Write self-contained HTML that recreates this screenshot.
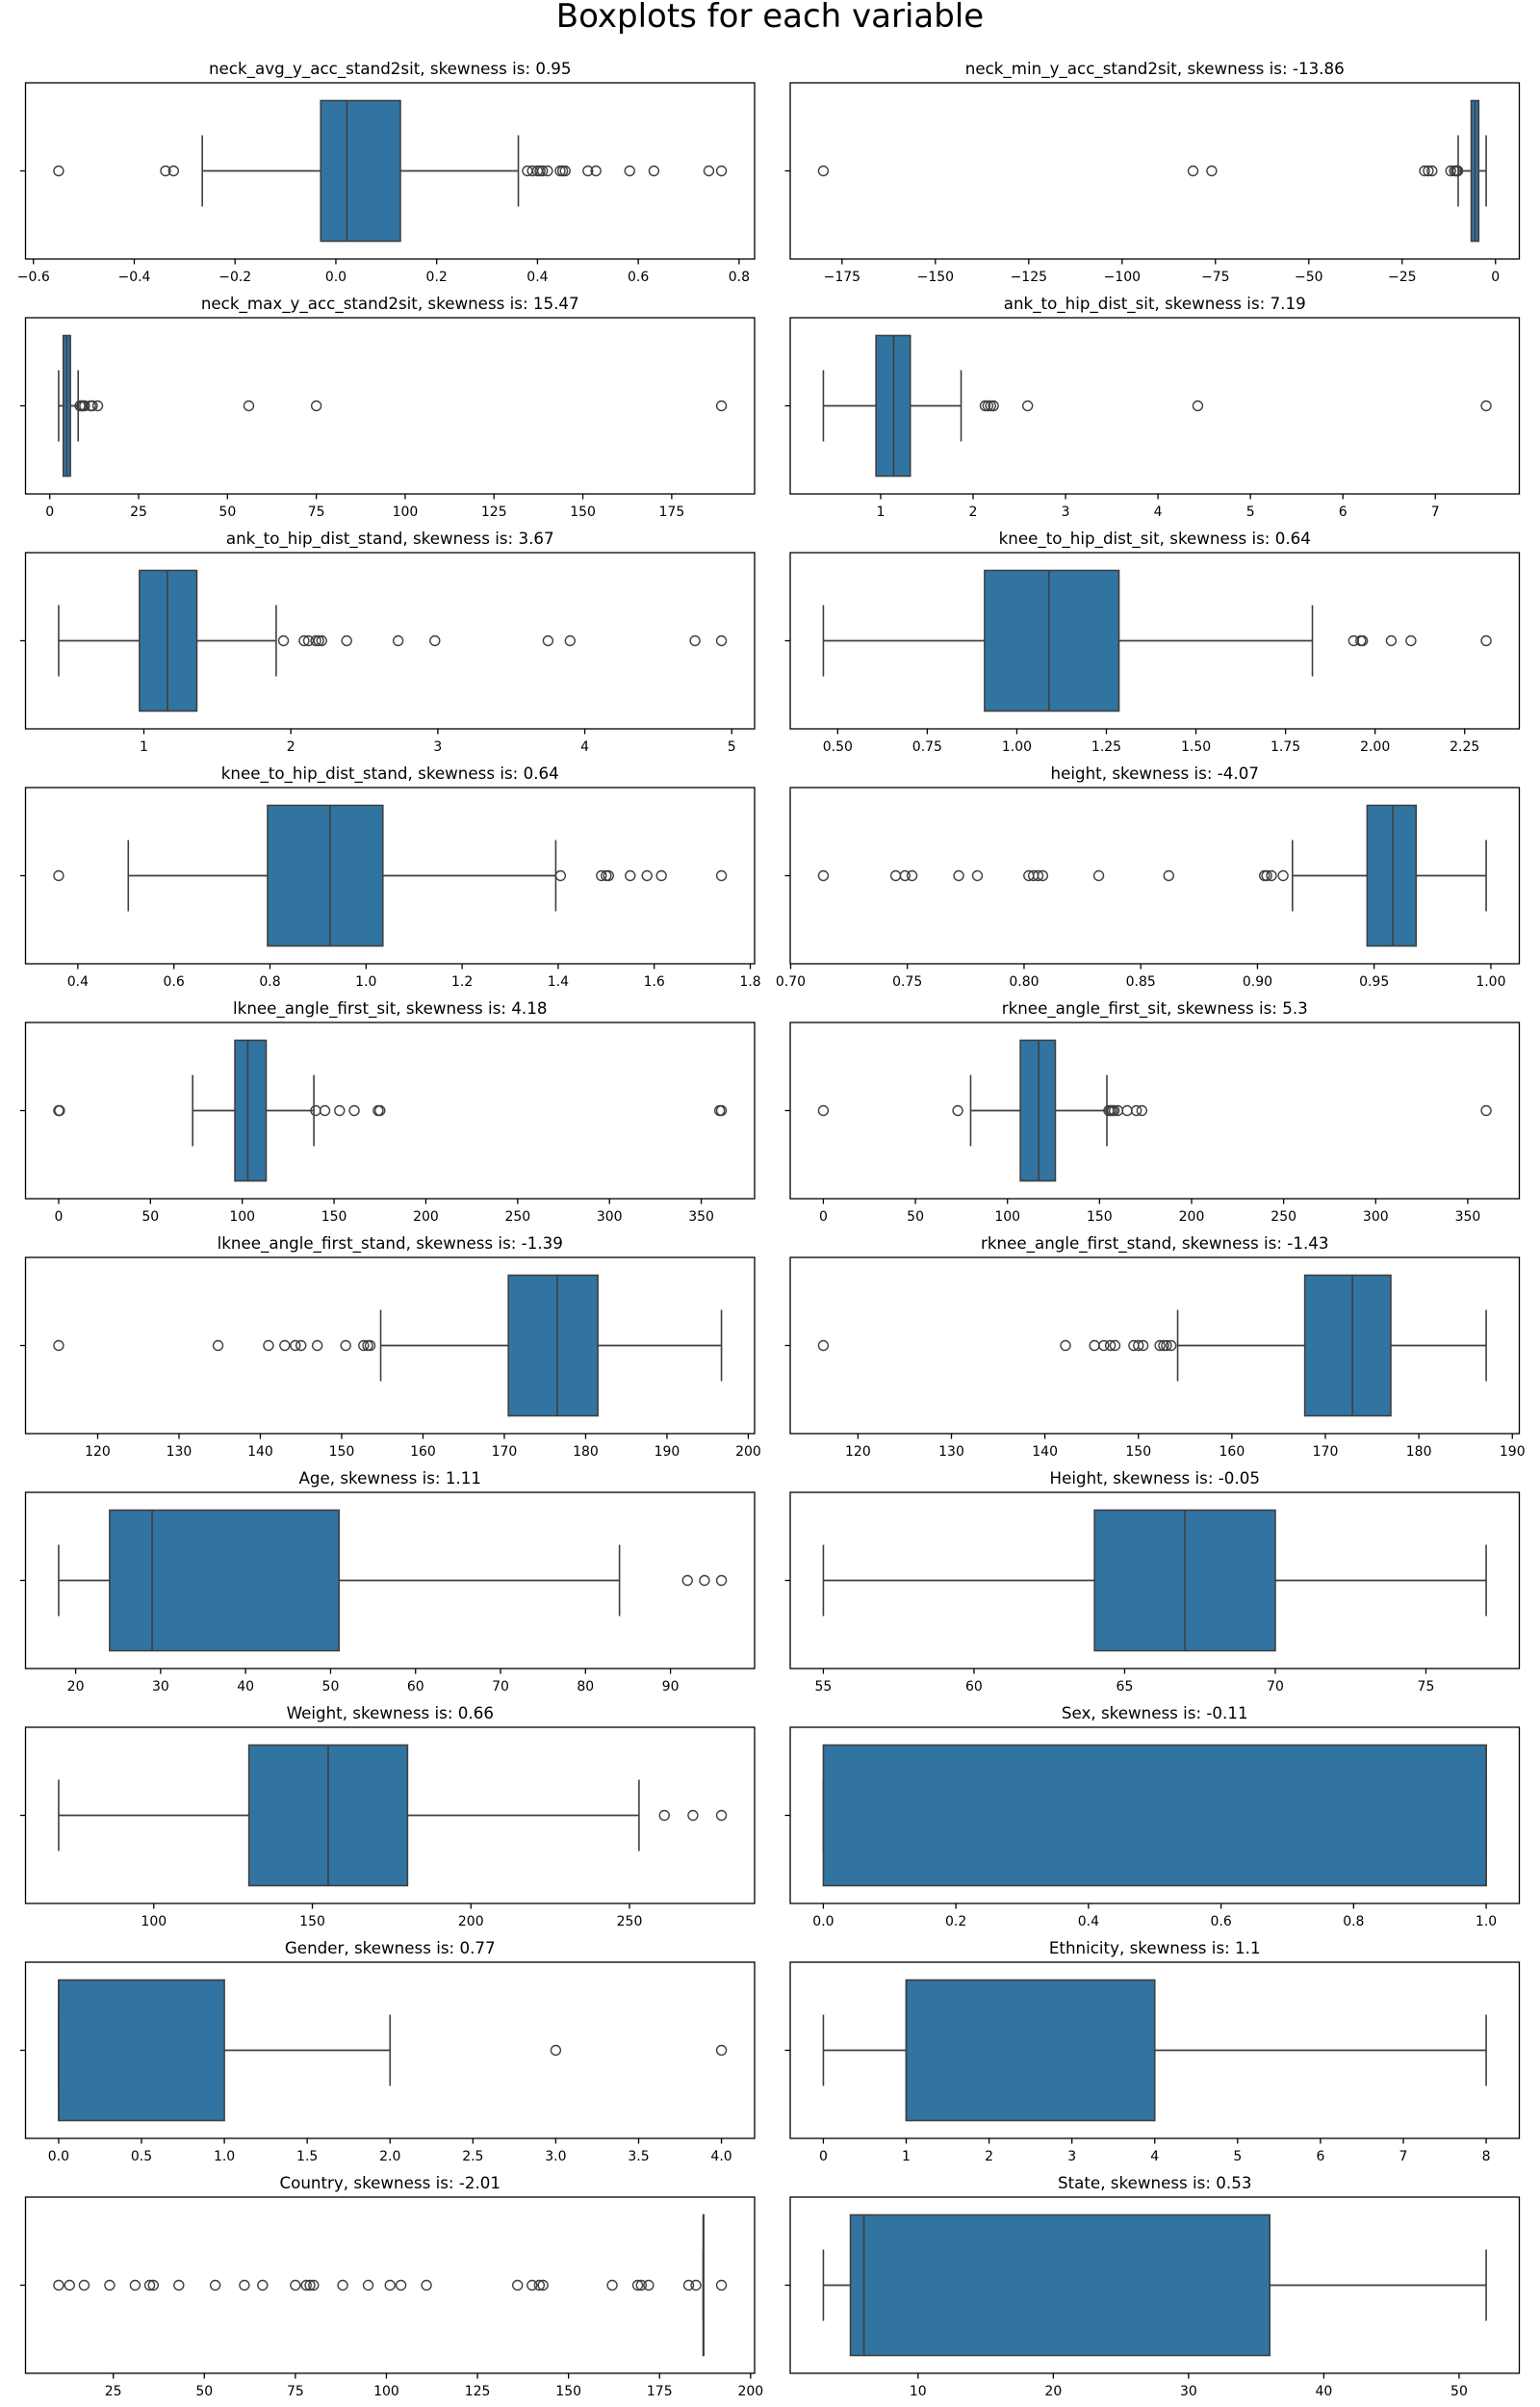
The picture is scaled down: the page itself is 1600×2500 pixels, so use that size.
<!DOCTYPE html>
<html><head><meta charset="utf-8"><style>
html,body{margin:0;padding:0;background:#fff;}
svg{display:block;font-family:"DejaVu Sans","Liberation Sans",sans-serif;}
</style></head><body>
<svg id="fig" width="1600" height="2500" viewBox="0 0 1600 2500" xmlns="http://www.w3.org/2000/svg">
<rect width="1600" height="2500" fill="#fff"/>
<text x="800" y="28" text-anchor="middle" font-size="34">Boxplots for each variable</text>
</svg>
<script>
const variableNames = ["neck_avg_y_acc_stand2sit","neck_min_y_acc_stand2sit","neck_max_y_acc_stand2sit","ank_to_hip_dist_sit","ank_to_hip_dist_stand","knee_to_hip_dist_sit","knee_to_hip_dist_stand","height","lknee_angle_first_sit","rknee_angle_first_sit","lknee_angle_first_stand","rknee_angle_first_stand","Age","Height","Weight","Sex","Gender","Ethnicity","Country","State"];
const skewness = ["0.95","-13.86","15.47","7.19","3.67","0.64","0.64","-4.07","4.18","5.3","-1.39","-1.43","1.11","-0.05","0.66","-0.11","0.77","1.1","-2.01","0.53"];
const whiskerLow = [-0.265,-10,2.5,0.38,0.42,0.46,0.505,0.915,73,80,154.8,154.2,18,55,70,0,0,0,187,3];
const q1Values = [-0.03,-6.5,3.8,0.95,0.97,0.91,0.795,0.947,96,107,170.5,167.8,24,64,130,0,0,1,187,5];
const medianValues = [0.022,-5.5,4.8,1.14,1.16,1.09,0.925,0.958,103,117,176.5,172.9,29,67,155,1,0,1,187,6];
const q3Values = [0.128,-4.5,5.8,1.32,1.36,1.285,1.035,0.968,113,126,181.5,177,51,70,180,1,1,4,187,36];
const whiskerHigh = [0.362,-2.5,8,1.87,1.9,1.825,1.395,0.998,139,154,196.7,187.2,84,77,253,1,2,8,187,52];
const outliers = [
 [-0.55,-0.338,-0.322,0.38,0.39,0.40,0.405,0.41,0.42,0.445,0.45,0.455,0.50,0.516,0.583,0.631,0.74,0.765],
 [-180,-81,-76,-19,-18,-17,-12,-11,-10.5,-10.2,-10.1],
 [8.5,9,9.3,9.8,11.5,12,13.5,56,75,189],
 [2.13,2.16,2.19,2.22,2.59,4.43,7.55],
 [1.95,2.09,2.12,2.17,2.19,2.21,2.38,2.73,2.98,3.75,3.9,4.75,4.93],
 [1.94,1.96,1.965,2.045,2.1,2.31],
 [0.36,1.405,1.49,1.5,1.505,1.55,1.585,1.615,1.74],
 [0.714,0.745,0.749,0.752,0.772,0.78,0.802,0.804,0.806,0.808,0.832,0.862,0.903,0.904,0.906,0.911],
 [0,0.5,140,145,153,161,174,175,360,361],
 [0,73,155,156,157,158,160,165,170,173,360],
 [115.2,134.8,141,143,144.3,145,147,150.5,152.7,153.2,153.5],
 [116.3,142.2,145.3,146.3,147,147.5,149.5,150,150.5,152.3,152.7,153,153.5],
 [92,94,96],
 [],
 [261,270,279],
 [],
 [3,4],
 [],
 [10,13,17,24,31,35,36,43,53,61,66,75,78,79,80,88,95,101,104,111,136,140,142,143,162,169,170,172,183,185,192],
 []
];
const tickValues = [
 [-0.6,-0.4,-0.2,0,0.2,0.4,0.6,0.8],
 [-175,-150,-125,-100,-75,-50,-25,0],
 [0,25,50,75,100,125,150,175],
 [1,2,3,4,5,6,7],
 [1,2,3,4,5],
 [0.5,0.75,1,1.25,1.5,1.75,2,2.25],
 [0.4,0.6,0.8,1,1.2,1.4,1.6,1.8],
 [0.7,0.75,0.8,0.85,0.9,0.95,1],
 [0,50,100,150,200,250,300,350],
 [0,50,100,150,200,250,300,350],
 [120,130,140,150,160,170,180,190,200],
 [120,130,140,150,160,170,180,190],
 [20,30,40,50,60,70,80,90],
 [55,60,65,70,75],
 [100,150,200,250],
 [0,0.2,0.4,0.6,0.8,1],
 [0,0.5,1,1.5,2,2.5,3,3.5,4],
 [0,1,2,3,4,5,6,7,8],
 [25,50,75,100,125,150,175,200],
 [10,20,30,40,50]
];
const tickDecimals = [1,0,0,0,0,2,1,2,0,0,0,0,0,0,0,1,1,0,0,0];

const NS = "http://www.w3.org/2000/svg";
const svg = document.getElementById('fig');
function mk(tag, attrs, parent){const e=document.createElementNS(NS,tag);for(const k in attrs)e.setAttribute(k,attrs[k]);parent.appendChild(e);return e;}
const EDGE="#3f3f3f";
for(let i=0;i<variableNames.length;i++){
  const col=i%2,row=Math.floor(i/2);
  const L=col===0?26.5:821, W=757.5, T=86+244*row, H=183, cy=T+H/2;
  const all=[whiskerLow[i],whiskerHigh[i]].concat(outliers[i]);
  const mn=Math.min(...all), mx=Math.max(...all), rg=(mx-mn)||1;
  const x0=mn-0.05*rg, x1=mx+0.05*rg;
  const sx=v=>L+(v-x0)/(x1-x0)*W;
  const g=mk('g',{},svg);
  
  
  const t=mk('text',{x:L+W/2,y:T-9,'text-anchor':'middle','font-size':'16.7'},g);
  
  
  t.textContent=variableNames[i]+', skewness is: '+skewness[i];
  const wl=mk('line',{x1:sx(whiskerLow[i]),x2:sx(q1Values[i]),y1:cy,y2:cy,stroke:EDGE,'stroke-width':1.8},g);
  
  
  const wh=mk('line',{x1:sx(q3Values[i]),x2:sx(whiskerHigh[i]),y1:cy,y2:cy,stroke:EDGE,'stroke-width':1.8},g);
  
  
  [whiskerLow[i],whiskerHigh[i]].forEach(v=>{
    const c=mk('line',{x1:sx(v),x2:sx(v),y1:cy-37,y2:cy+37,stroke:EDGE,'stroke-width':1.6},g);
    
    
  });
  const bx=sx(q1Values[i]), bw=Math.max(sx(q3Values[i])-bx,0.5);
  const b=mk('rect',{x:bx,y:cy-73,width:bw,height:146,fill:'#3274a1',stroke:EDGE,'stroke-width':1.6},g);
  
  
  const m=mk('line',{x1:sx(medianValues[i]),x2:sx(medianValues[i]),y1:cy-73,y2:cy+73,stroke:EDGE,'stroke-width':1.6},g);
  
  
  outliers[i].forEach(v=>{
    const c=mk('circle',{cx:sx(v),cy:cy,r:5,fill:'none',stroke:EDGE,'stroke-width':1.4},g);
    
    
  });
  const fr=mk('rect',{x:L,y:T,width:W,height:H,fill:'none',stroke:'#000','stroke-width':1.3},g);
  
  
  const yt=mk('line',{x1:L-5.5,x2:L,y1:cy,y2:cy,stroke:'#000','stroke-width':1.3},g);
  
  
  tickValues[i].forEach(v=>{
    const x=sx(v);
    const tk=mk('line',{x1:x,x2:x,y1:T+H,y2:T+H+5.5,stroke:'#000','stroke-width':1.3},g);
    
    
    const lb=mk('text',{x:x,y:T+H+23,'text-anchor':'middle','font-size':'14'},g);
    
    
    lb.textContent=v.toFixed(tickDecimals[i]).replace('-','\u2212');
  });
}
</script>
</body></html>
